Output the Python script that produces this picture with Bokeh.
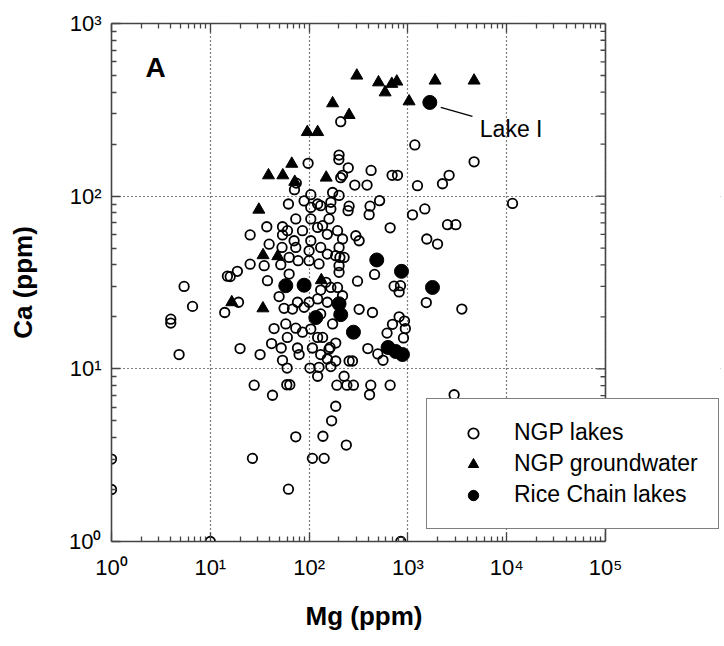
from bokeh.plotting import figure
from bokeh.models import (LogAxis, FixedTicker, Legend, LegendItem, Label,
                          Range1d, ColumnDataSource, Span, BoxAnnotation, Title)
from bokeh.embed import file_html
from bokeh.resources import INLINE

# ---------------- data (ppm) ----------------
lakes_mg = [
    209, 1175, 4677, 97.7, 201, 200, 249, 424, 218, 209,
    290, 386, 692, 785, 1250, 2239, 2612, 11450, 74.2, 71.1,
    173, 201, 104, 61.8, 89.0, 122, 166, 104, 131, 254,
    414, 517, 1483, 1113, 248, 405, 166, 159, 104, 73.3,
    137, 661, 2518, 3055, 37.3, 25.3, 53.8, 60.4, 85.7, 122,
    153, 194, 297, 321, 218, 53.8, 70.5, 104, 1553, 1995,
    39.4, 53.2, 73.3, 100, 131, 201, 153, 186, 205, 226,
    25.3, 18.8, 35.1, 62.8, 77.4, 51.7, 100, 126, 201, 14.9,
    15.9, 37.9, 62.8, 49.7, 55.8, 19.3, 14.0, 76.3, 67.9, 100,
    89.0, 131, 122, 148, 166, 194, 218, 153, 201, 309,
    460, 725, 841, 815, 1535, 3516, 321, 438, 131, 173,
    58.1, 44.2, 73.3, 85.7, 104, 60.2, 122, 137, 41.7, 52.2,
    76.3, 108, 131, 79.2, 53.8, 59.9, 102, 126, 122, 163,
    186, 159, 153, 186, 166, 254, 275, 226, 191, 241,
    281, 421, 409, 661, 2937, 186, 169, 138, 73.3, 238,
    26.7, 108, 142, 61.8, 393, 496, 560, 815, 698, 924,
    942, 615, 902, 20.0, 31.9, 27.8, 59.5, 63.8, 42.6,
    3.98, 3.98, 5.43, 6.61, 4.83, 1.0, 1.0, 10.0, 848]
lakes_ca = [
    270, 198, 158, 155, 173, 163, 146, 141, 132, 128,
    116, 116, 132, 132, 115, 118, 132, 90.8, 119, 109,
    105, 101, 102, 90.1, 93.8, 90.1, 92.1, 86.1, 88.1, 87.5,
    87.5, 94.2, 84.3, 78.0, 82.4, 78.1, 84.3, 73.8, 73.8, 73.8,
    67.5, 65.6, 68.4, 68.4, 66.5, 59.6, 66.5, 63.1, 63.1, 65.9,
    60.1, 63.1, 59.0, 55.2, 56.5, 59.6, 55.2, 55.2, 56.5, 52.8,
    52.7, 50.5, 50.5, 48.3, 50.5, 50.5, 46.2, 45.2, 44.2, 44.2,
    40.4, 36.7, 39.6, 44.2, 42.3, 40.1, 42.3, 40.5, 39.6, 34.4,
    34.2, 32.4, 35.4, 26.2, 22.4, 24.3, 21.2, 24.3, 22.2, 24.3,
    22.7, 28.6, 25.4, 31.7, 29.6, 29.6, 26.5, 24.3, 36.2, 32.2,
    35.2, 30.1, 30.3, 27.9, 24.2, 22.2, 22.1, 21.2, 20.8, 18.2,
    18.2, 17.1, 17.2, 16.3, 17.0, 15.2, 15.2, 15.2, 14.0, 13.2,
    13.2, 13.2, 12.1, 12.1, 11.2, 10.1, 10.1, 10.2, 9.06, 13.3,
    14.1, 13.0, 11.4, 11.1, 10.3, 11.1, 11.1, 9.06, 8.04, 8.04,
    8.04, 8.04, 7.08, 8.04, 7.08, 6.07, 5.00, 4.07, 4.04, 3.62,
    3.03, 3.03, 3.03, 2.01, 13.1, 12.2, 11.2, 20.0, 18.1, 18.9,
    17.1, 16.1, 15.1, 13.1, 12.1, 8.04, 8.09, 8.09, 7.03,
    19.4, 18.4, 30.0, 23.0, 12.1, 3.0, 2.0, 1.0, 1.0]

gw_mg = [173, 254, 95.9, 122, 66.8, 38.8, 54.2, 149, 71.6, 31.0, 34.2, 48.2,
         16.5, 34.1, 133, 304, 504, 687, 772, 588, 1884, 4677, 1028]
gw_ca = [345, 295, 235, 235, 154, 132, 132, 128, 121, 83.5, 45.5, 44.9,
         24.3, 22.4, 32.6, 499, 456, 447, 461, 399, 467, 467, 354]

rice_mg = [1667, 58.1, 89.0, 117, 201, 209, 281, 484, 861, 1774, 630, 754, 881]
rice_ca = [349, 30.3, 30.5, 19.8, 23.8, 20.6, 16.3, 42.7, 36.7, 29.6, 13.3, 12.6, 12.1]

series_names = ["NGP lakes", "NGP groundwater", "Rice Chain lakes"]
lake_i_name = "Lake I"
panel_tag = "A"

x_ticks = [1, 10, 100, 1000, 10000, 100000]
x_tick_labels = ["10\u2070", "10\u00b9", "10\u00b2", "10\u00b3", "10\u2074", "10\u2075"]
y_ticks = [1, 10, 100, 1000]
y_tick_labels = ["10\u2070", "10\u00b9", "10\u00b2", "10\u00b3"]
x_title = "Mg (ppm)"
y_title = "Ca (ppm)"

FONT = "Liberation Sans"
AXC = "#444444"

# ---------------- layout ----------------
LEFT, RIGHT_MARGIN, TOP, BOTTOM = 111, 4, 23, 105
W, H = 724, 646
AX_W = 494                       # width of the axes box (1 .. 1e5)
DEC = AX_W / 5.0                 # pixels per decade on x
frame_w = W - LEFT - RIGHT_MARGIN
x_end = 10 ** (frame_w / DEC)    # frame extends past 1e5 so the legend can overhang
X_MAX = x_ticks[-1]


def minor_for(ticks):
    out = []
    for t in ticks[:-1]:
        out += [t * k for k in range(2, 10)]
    return out


p = figure(width=W, height=H, x_axis_type="log", y_axis_type="log",
           x_range=Range1d(1, x_end), y_range=Range1d(1, 1e3),
           output_backend="svg", toolbar_location=None,
           min_border_left=LEFT, min_border_right=RIGHT_MARGIN,
           min_border_top=TOP, min_border_bottom=BOTTOM)
p.outline_line_color = None
p.background_fill_color = "white"
p.border_fill_color = "white"


def style_axis(ax, ticks, labels, show):
    ax.ticker = FixedTicker(ticks=ticks, minor_ticks=minor_for(ticks))
    ax.axis_line_color = AXC
    ax.axis_line_width = 1.6
    ax.major_tick_line_color = AXC
    ax.minor_tick_line_color = AXC
    ax.major_tick_line_width = 1.3
    ax.minor_tick_line_width = 1.3
    ax.major_tick_in = 9
    ax.major_tick_out = 0
    ax.minor_tick_in = 5
    ax.minor_tick_out = 0
    if show:
        ax.major_label_overrides = {t: l for t, l in zip(ticks, labels)}
        ax.major_label_text_font = FONT
        ax.major_label_text_font_size = "22px"
        ax.major_label_text_color = "black"
    else:
        ax.major_label_overrides = {t: "" for t in ticks}
        ax.major_label_text_font_size = "0px"
        ax.major_label_standoff = 0


xa = p.xaxis[0]
ya = p.yaxis[0]
style_axis(xa, x_ticks, x_tick_labels, True)
style_axis(ya, y_ticks, y_tick_labels, True)
xa.bounds = (1, X_MAX)
xa.major_label_standoff = 13
ya.major_label_standoff = 10
ya.axis_label = y_title
ya.axis_label_text_font = FONT
ya.axis_label_text_font_size = "26px"
ya.axis_label_text_font_style = "bold"
ya.axis_label_text_color = "black"
ya.axis_label_standoff = 28

# x title centred under the axes box (not under the wider frame)
p.add_layout(Title(text=x_title, align="left", offset=194, standoff=32,
                   text_font=FONT, text_font_size="26px",
                   text_font_style="bold", text_color="black"), "below")

top = LogAxis()
style_axis(top, x_ticks, x_tick_labels, False)
top.bounds = (1, X_MAX)
p.add_layout(top, "above")

for g, ticks in ((p.xgrid[0], x_ticks), (p.ygrid[0], y_ticks)):
    g.ticker = FixedTicker(ticks=ticks)
    g.grid_line_color = "black"
    g.grid_line_dash = "1 3"
    g.grid_line_width = 1.2
    g.minor_grid_line_color = None

src_l = ColumnDataSource(dict(x=lakes_mg, y=lakes_ca))
src_g = ColumnDataSource(dict(x=gw_mg, y=gw_ca))
src_r = ColumnDataSource(dict(x=rice_mg, y=rice_ca))

r_l = p.scatter("x", "y", source=src_l, marker="circle", size=9.5,
                fill_color=None, line_color="black", line_width=1.8)
r_g = p.scatter("x", "y", source=src_g, marker="triangle", size=12,
                fill_color="black", line_color="black", line_width=1)
r_r = p.scatter("x", "y", source=src_r, marker="circle", size=14,
                fill_color="black", line_color="black", line_width=1)

# blank area to the right of the axes box (under the overhanging legend)
p.add_layout(BoxAnnotation(left=X_MAX, fill_color="white", fill_alpha=1.0,
                           line_color=None))

# right-hand axis of the box: line + inward ticks
p.add_layout(Span(location=X_MAX, dimension="height", line_color=AXC,
                  line_width=1.6))
maj_f = 10 ** (9 / DEC)
min_f = 10 ** (5 / DEC)
y_minor = minor_for(y_ticks)
p.segment(x0=[X_MAX / maj_f] * len(y_ticks), y0=y_ticks,
          x1=[X_MAX] * len(y_ticks), y1=y_ticks,
          line_color=AXC, line_width=1.3)
p.segment(x0=[X_MAX / min_f] * len(y_minor), y0=y_minor,
          x1=[X_MAX] * len(y_minor), y1=y_minor,
          line_color=AXC, line_width=1.3)

# Lake I annotation (connector + label offset from the Lake I point)
lx, ly = rice_mg[0], rice_ca[0]
p.segment(x0=[lx * 1.29], y0=[ly * 0.937], x1=[lx * 2.70], y1=[ly * 0.83],
          line_color="black", line_width=1.2)
p.add_layout(Label(x=lx, y=ly, x_offset=50, y_offset=-27, text=lake_i_name,
                   text_font=FONT, text_font_size="23px", text_color="black",
                   text_baseline="alphabetic", text_align="left"))

p.add_layout(Label(x=2.8, y=555, text=panel_tag, text_font=FONT,
                   text_font_size="28px", text_font_style="bold",
                   text_color="black", text_align="center",
                   text_baseline="middle"))

legend = Legend(items=[LegendItem(label=series_names[0], renderers=[r_l]),
                       LegendItem(label=series_names[1], renderers=[r_g]),
                       LegendItem(label=series_names[2], renderers=[r_r])],
                location=(315, 12), margin=0, padding=20, spacing=4,
                glyph_width=52, glyph_height=26, label_height=26,
                label_standoff=15,
                label_text_font=FONT, label_text_font_size="23px",
                label_text_color="black",
                border_line_color="black", border_line_width=1.3,
                background_fill_color="white", background_fill_alpha=1.0)
p.add_layout(legend)

open("out.html", "w").write(file_html(p, INLINE))
